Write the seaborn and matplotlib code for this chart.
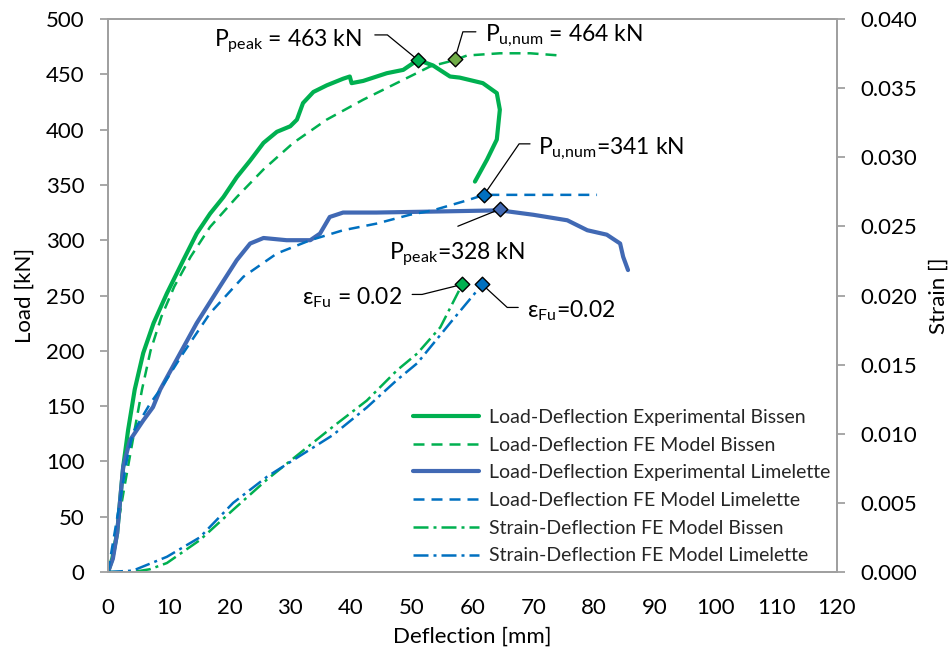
import numpy as np
import pandas as pd
import matplotlib
matplotlib.use("Agg")
import matplotlib.pyplot as plt
import seaborn as sns

# ---------------- data ----------------
exp_bissen_def = [0, 0.7, 1.5, 2.5, 3.3, 4.4, 5.8, 7.5, 9.7, 12.4, 14.6, 16.8, 19.0, 21.2, 23.4,
                  25.6, 27.8, 30.0, 31.1, 32.1, 33.8, 36.0, 38.7, 39.8, 40.1, 42.0, 45.9, 48.6,
                  51.0, 53.5, 56.3, 57.9, 61.7, 64.0, 64.5, 64.0, 62.4, 60.4]
exp_bissen_load = [0, 12, 35, 95, 128, 165, 198, 225, 252, 282, 306, 324, 339, 357, 372,
                   388, 398, 403, 409, 424, 434, 440, 446, 448, 442, 444, 451, 454,
                   463, 458, 448, 447, 442, 433, 418, 391, 373, 353]

fe_bissen_def = [0, 1.2, 2.8, 4.3, 5.6, 7.0, 8.8, 10.9, 13.6, 16.8, 21.2, 25.6, 30.5, 36.0, 42.0,
                 47.5, 53.0, 55.8, 57.1, 59.1, 64.5, 69.5, 74.4]
fe_bissen_load = [0, 29, 80, 126, 165, 200, 231, 258, 285, 312, 339, 364, 388, 409, 427,
                  442, 457, 461, 463, 467, 469, 469, 467]

exp_lim_def = [0, 0.8, 1.5, 2.5, 3.6, 5.8, 7.4, 8.6, 11.3, 14.6, 18.4, 21.2, 23.4, 25.6, 29.4,
               33.3, 34.9, 36.5, 38.7, 44.2, 54.7, 64.5, 70.0, 75.6, 78.9, 82.1, 84.3, 84.8, 85.6]
exp_lim_load = [0, 12, 35, 95, 119, 137, 149, 165, 192, 225, 258, 282, 297, 302, 300,
                300, 306, 321, 325, 325, 326, 327, 323, 318, 309, 305, 297, 285, 273]

fe_lim_def = [0, 2.0, 3.1, 4.1, 6.9, 8.6, 12.4, 16.8, 22.3, 27.8, 33.3, 38.7, 44.2, 49.7,
              53.5, 59.1, 61.9, 80.5]
fe_lim_load = [0, 65, 101, 126, 152, 165, 198, 234, 267, 288, 300, 309, 315, 323,
               327, 336, 341, 341]

strain_bissen_def = [0, 4.1, 6.9, 9.7, 15.1, 20.6, 26.2, 31.6, 37.0, 42.6, 47.6, 50.9, 54.7, 58.3]
strain_bissen = [0, 0.0, 0.0002, 0.00065, 0.0023, 0.0045, 0.0067, 0.0086, 0.0105, 0.0124,
                 0.0146, 0.0158, 0.0177, 0.0208]

strain_lim_def = [0, 4.1, 9.7, 15.1, 20.6, 26.2, 31.6, 37.0, 42.6, 47.6, 50.9, 56.3, 61.6]
strain_lim = [0, 0.0001, 0.0011, 0.0025, 0.0050, 0.0069, 0.0084, 0.0099, 0.0119, 0.0139,
              0.0151, 0.0180, 0.0208]

# marked points
peak_bissen = (51.0, 463)
pu_bissen = (57.1, 464)
pu_lim = (61.9, 341)
peak_lim = (64.5, 328)
eps_bissen = (58.3, 0.0208)
eps_lim = (61.6, 0.0208)

labels = ["Load-Deflection Experimental Bissen",
          "Load-Deflection FE Model Bissen",
          "Load-Deflection Experimental Limelette",
          "Load-Deflection FE Model Limelette",
          "Strain-Deflection FE Model Bissen",
          "Strain-Deflection FE Model Limelette"]

x_ticks = list(range(0, 121, 10))
load_ticks = list(range(0, 501, 50))
strain_ticks = [0.000, 0.005, 0.010, 0.015, 0.020, 0.025, 0.030, 0.035, 0.040]

# ---------------- style ----------------
sns.set_style("white")
plt.rcParams['font.family'] = ['Lato', 'DejaVu Sans']
plt.rcParams['mathtext.fontset'] = 'custom'
plt.rcParams['mathtext.rm'] = 'Lato'
plt.rcParams['mathtext.it'] = 'Lato:italic'
plt.rcParams['mathtext.bf'] = 'Lato:bold'
plt.rcParams['lines.solid_joinstyle'] = 'round'
plt.rcParams['lines.dash_joinstyle'] = 'round'

GREEN = "#00B050"
GREEN_M = "#70AD47"
BLUE_D = "#4169B4"
BLUE = "#0070C0"
GRAY = "#A0A0A0"

fig = plt.figure(figsize=(9.51, 6.53), dpi=100)
ax = fig.add_axes([108 / 951, 1 - 572 / 653, 729 / 951, 553 / 653])
ax2 = ax.twinx()

dash = (0, (4.4, 2.8))
dashdot = (0, (6, 2, 1.2, 2))

sns.lineplot(x=exp_bissen_def, y=exp_bissen_load, sort=False, estimator=None, ax=ax,
             color=GREEN, lw=3.0, label=labels[0])
sns.lineplot(x=fe_bissen_def, y=fe_bissen_load, sort=False, estimator=None, ax=ax,
             color=GREEN, lw=1.8, linestyle=dash, label=labels[1])
sns.lineplot(x=exp_lim_def, y=exp_lim_load, sort=False, estimator=None, ax=ax,
             color=BLUE_D, lw=3.0, label=labels[2])
sns.lineplot(x=fe_lim_def, y=fe_lim_load, sort=False, estimator=None, ax=ax,
             color=BLUE, lw=1.8, linestyle=dash, label=labels[3])
sns.lineplot(x=strain_bissen_def, y=strain_bissen, sort=False, estimator=None, ax=ax2,
             color=GREEN, lw=1.8, linestyle=dashdot, label=labels[4])
sns.lineplot(x=strain_lim_def, y=strain_lim, sort=False, estimator=None, ax=ax2,
             color=BLUE, lw=1.8, linestyle=dashdot, label=labels[5])

# markers
for (px, py), col, a in [(peak_bissen, GREEN, ax), (pu_bissen, GREEN_M, ax),
                         (pu_lim, BLUE, ax), (peak_lim, BLUE_D, ax),
                         (eps_bissen, GREEN, ax2), (eps_lim, BLUE, ax2)]:
    sns.scatterplot(x=[px], y=[py], ax=a, marker='D', s=55, color=col,
                    edgecolor='black', linewidth=1.0, zorder=6, legend=False)

# annotations
ann_fs = 16.5
def leader(a, pt, offA, angB=None):
    cs = "arc3" if angB is None else f"angle,angleA=0,angleB={angB},rad=0"
    a.annotate("", xy=pt, xytext=offA, textcoords='offset pixels',
               arrowprops=dict(arrowstyle='-', color='black', lw=0.9,
                               shrinkA=0, shrinkB=0, connectionstyle=cs), zorder=5)

def label(a, pt, text, off, ha):
    a.annotate(text, xy=pt, xytext=off, textcoords='offset pixels', ha=ha,
               va='baseline', fontsize=ann_fs, color='black')

leader(ax, peak_bissen, (-43, 25), -39.4)
label(ax, peak_bissen, r"P$_{\mathrm{peak}}$ = 463 kN", (-56, 14), 'right')
leader(ax, pu_bissen, (21, 27), 73.5)
label(ax, pu_bissen, r"P$_{\mathrm{u{,}num}}$ = 464 kN", (30, 18), 'left')
leader(ax, pu_lim, (46, 51), 55.5)
label(ax, pu_lim, r"P$_{\mathrm{u{,}num}}$=341 kN", (54, 41), 'left')
leader(ax, peak_lim, (-42, -17))
label(ax, peak_lim, r"P$_{\mathrm{peak}}$=328 kN", (-43, -50), 'center')
leader(ax2, eps_bissen, (-50, -10), 14)
label(ax2, eps_bissen, r"ε$_{\mathrm{Fu}}$ = 0.02", (-60, -20), 'right')
leader(ax2, eps_lim, (36, -23), -42.6)
label(ax2, eps_lim, r"ε$_{\mathrm{Fu}}$=0.02", (45, -33), 'left')

# axes
ax.set_xlim(0, 120)
ax.set_ylim(0, 500)
ax2.set_ylim(0, 0.04)
ax.set_xticks(x_ticks)
ax.set_yticks(load_ticks)
ax2.set_yticks(strain_ticks)
ax2.set_yticklabels([f"{v:.3f}" for v in strain_ticks])

for a in (ax, ax2):
    for s in a.spines.values():
        s.set_color(GRAY)
        s.set_linewidth(1.4)
    a.tick_params(direction='out', length=6, width=1.3, color=GRAY,
                  labelsize=16, labelcolor='black', pad=11)
ax.tick_params(axis='x', pad=13)
ax2.tick_params(axis='y', pad=11)

ax.set_xlabel("Deflection [mm]", fontsize=16, labelpad=6, color='black')
ax.set_ylabel("Load [kN]", fontsize=16, labelpad=8, color='black')
ax2.set_ylabel("Strain []", fontsize=16, labelpad=8, color='black')

# legend
h1, l1 = ax.get_legend_handles_labels()
h2, l2 = ax2.get_legend_handles_labels()
if ax.get_legend():
    ax.get_legend().remove()
if ax2.get_legend():
    ax2.get_legend().remove()
leg = ax2.legend(h1 + h2, l1 + l2, loc='upper left', bbox_to_anchor=(0.418, 0.295),
                 frameon=False, fontsize=14, handlelength=3.4, handletextpad=0.5,
                 labelspacing=0.55, borderpad=0, borderaxespad=0)

fig.savefig("out.png", dpi=100)
